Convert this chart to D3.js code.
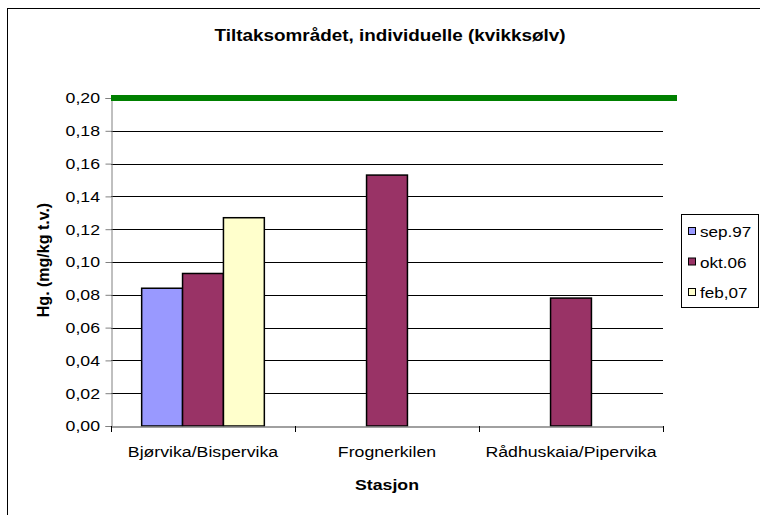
<!DOCTYPE html>
<html>
<head>
<meta charset="utf-8">
<script src="https://cdn.jsdelivr.net/npm/d3@7"></script>
<style>
  body { margin: 0; background: #fff; }
  svg { font-family: "Liberation Sans", Arial, sans-serif; }
</style>
</head>
<body>
<div class="svg-content"></div>
<script>
const stations = ["Bjørvika/Bispervika", "Frognerkilen", "Rådhuskaia/Pipervika"];
const seriesNames = ["sep.97", "okt.06", "feb,07"];
const sep97 = [0.084, null, null];
const okt06 = [0.093, 0.153, 0.078];
const feb07 = [0.127, null, null];
const limitValue = 0.20;
const yTicks = [0, 0.02, 0.04, 0.06, 0.08, 0.10, 0.12, 0.14, 0.16, 0.18, 0.20];
const colors = ["#9999ff", "#993366", "#ffffcc"];

const svgWidth = 760;
const svgHeight = 515;
const plot = { left: 111, right: 663, top: 98, bottom: 426 };
// the original picture is a bit wider than tall, so text is stretched sideways
const sx = 1.18;

const svg = d3.select(".svg-content")
              .append("svg")
              .attr("width", svgWidth)
              .attr("height", svgHeight);

// chart area border (cut off at right and bottom)
svg.append("rect")
   .attr("x", 7.5).attr("y", 8.5)
   .attr("width", 780).attr("height", 530)
   .attr("fill", "#fff")
   .attr("stroke", "#000")
   .attr("stroke-width", 1);

const xScale = d3.scaleBand()
                 .domain(stations)
                 .range([plot.left, plot.right]);

const barWidth = xScale.bandwidth() / 4.5;

const yScale = d3.scaleLinear()
                 .domain([0, 0.20])
                 .range([plot.bottom, plot.top]);

const fmt = d => d3.format(".2f")(d).replace(".", ",");

function stretchedText(x, y, txt, size, bold, anchor) {
  return svg.append("g")
            .attr("transform", "translate(" + x + "," + y + ")")
            .append("text")
            .attr("transform", "scale(" + sx + ",1)")
            .attr("text-anchor", anchor || "middle")
            .attr("font-size", size)
            .attr("font-weight", bold ? "bold" : "normal")
            .text(txt);
}

// gridlines
svg.append("g")
   .selectAll("line")
   .data(yTicks.filter(d => d > 0 && d < 0.20))
   .enter()
   .append("line")
   .attr("x1", plot.left).attr("x2", plot.right)
   .attr("y1", d => Math.round(yScale(d)) + 0.5)
   .attr("y2", d => Math.round(yScale(d)) + 0.5)
   .attr("stroke", "#000")
   .attr("stroke-width", 1);

// bars
const seriesData = [sep97, okt06, feb07];
seriesData.forEach((values, si) => {
  svg.append("g")
     .selectAll("rect")
     .data(values.map((v, i) => ({ station: stations[i], value: v })).filter(d => d.value !== null))
     .enter()
     .append("rect")
     .attr("x", d => xScale(d.station) + barWidth * 0.75 + si * barWidth)
     .attr("y", d => yScale(d.value))
     .attr("width", barWidth)
     .attr("height", d => yScale(0) - yScale(d.value))
     .attr("fill", colors[si])
     .attr("stroke", "#000")
     .attr("stroke-width", 1.5);
});

// y axis
const yAxis = d3.axisLeft(yScale)
                .tickValues(yTicks)
                .tickFormat(fmt)
                .tickSize(6);

const yG = svg.append("g")
              .attr("transform", "translate(" + (plot.left + 0.5) + ",0)")
              .call(yAxis);
yG.select(".domain").attr("stroke", "#808080");
yG.selectAll(".tick line").attr("stroke", "#808080");
yG.selectAll("text")
  .attr("font-size", 15)
  .attr("font-family", "Liberation Sans, Arial")
  .attr("fill", "#000")
  .attr("x", -11.5 / sx)
  .attr("transform", "scale(" + sx + ",1)");

// x axis
const xAxis = d3.axisBottom(xScale)
                .tickSize(0);

const xG = svg.append("g")
              .attr("transform", "translate(0," + (plot.bottom + 0.5) + ")")
              .call(xAxis);
xG.select(".domain").attr("stroke", "#808080").attr("stroke-width", 1.5);
xG.selectAll("text")
  .attr("font-size", 15)
  .attr("font-family", "Liberation Sans, Arial")
  .attr("fill", "#000")
  .attr("y", 31)
  .attr("dy", 0)
  .attr("transform", "scale(" + sx + ",1)");

// category separator ticks
svg.append("g")
   .selectAll("line")
   .data(stations.concat(["end"]))
   .enter()
   .append("line")
   .attr("x1", (d, i) => Math.round(plot.left + i * xScale.step()) + 0.5)
   .attr("x2", (d, i) => Math.round(plot.left + i * xScale.step()) + 0.5)
   .attr("y1", plot.bottom)
   .attr("y2", plot.bottom + 6)
   .attr("stroke", "#000");

// limit line
svg.append("line")
   .attr("x1", plot.left).attr("x2", 677)
   .attr("y1", yScale(limitValue)).attr("y2", yScale(limitValue))
   .attr("stroke", "#008000")
   .attr("stroke-width", 6);

// title
stretchedText(390, 41, "Tiltaksområdet, individuelle (kvikksølv)", 16, true);

// axis titles
svg.append("text")
   .attr("transform", "translate(49,260) rotate(-90)")
   .attr("text-anchor", "middle")
   .attr("font-size", 16)
   .attr("font-weight", "bold")
   .text("Hg. (mg/kg t.v.)");

stretchedText(387, 490, "Stasjon", 15, true);

// legend
svg.append("rect")
   .attr("x", 681.5).attr("y", 214.5)
   .attr("width", 77).attr("height", 93)
   .attr("fill", "#fff")
   .attr("stroke", "#000");

seriesNames.forEach((name, i) => {
  const cy = 231.5 + i * 30.5;
  svg.append("rect")
     .attr("x", 688.5).attr("y", cy - 4)
     .attr("width", 7).attr("height", 7)
     .attr("fill", colors[i])
     .attr("stroke", "#000");
  stretchedText(700, cy + 5.5, name, 14.5, false, "start");
});
</script>
</body>
</html>
